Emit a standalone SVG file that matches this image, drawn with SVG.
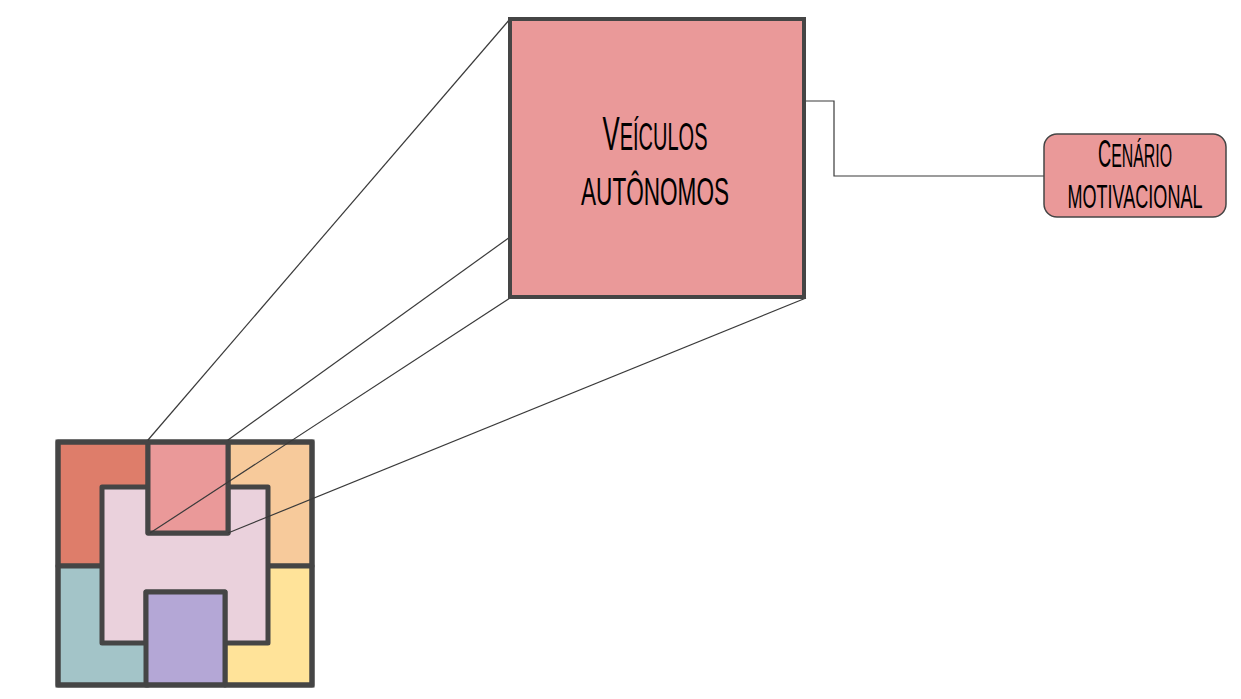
<svg xmlns="http://www.w3.org/2000/svg" width="1241" height="699" viewBox="0 0 1241 699">
<style>
.pc{stroke:#454545;stroke-width:5;stroke-linejoin:round}
.ln{fill:none;stroke:#3a3a3a;stroke-width:1.2}
.t{font-family:"Liberation Sans",Arial,sans-serif;fill:#000;text-anchor:middle}
.up{text-transform:uppercase}
</style>
<rect width="1241" height="699" fill="#fff"/>
<g id="puzzle">
<rect class="pc" x="58" y="442" width="90" height="124" fill="#DE7D6A"/>
<rect class="pc" x="228" y="442" width="84" height="124" fill="#F7CA9B"/>
<rect class="pc" x="58" y="566" width="90" height="119" fill="#A3C4C8"/>
<rect class="pc" x="225" y="566" width="87" height="119" fill="#FFE399"/>
<polygon class="pc" points="102,487 148,487 148,533 228,533 228,487 268,487 268,643 225,643 225,592 146,592 146,643 102,643" fill="#EAD1DC"/>
<rect class="pc" x="148" y="442" width="80" height="91" fill="#EA9999"/>
<rect class="pc" x="146" y="592" width="79" height="93" fill="#B4A7D6"/>
<rect x="58" y="442" width="254" height="243" fill="none" stroke="#454545" stroke-width="5"/>
</g>
<g id="connectors">
<line class="ln" x1="148" y1="440" x2="510" y2="19"/>
<line class="ln" x1="228" y1="440" x2="510" y2="237"/>
<line class="ln" x1="150" y1="533" x2="510" y2="298"/>
<line class="ln" x1="228" y1="533" x2="806" y2="298"/>
<polyline class="ln" points="806,101 834,101 834,176 1044,176"/>
</g>
<g id="veiculos">
<rect x="510" y="19" width="294" height="278" fill="#EA9999" stroke="#454545" stroke-width="4"/>
<text class="t" transform="translate(655,150) scale(0.526,1)" x="0" y="0" textLength="199.5" lengthAdjust="spacingAndGlyphs"><tspan font-size="49">V</tspan><tspan class="up" font-size="38">eículos</tspan></text>
<text class="t up" transform="translate(655,205) scale(0.594,1)" x="0" y="0" font-size="38" textLength="249.1" lengthAdjust="spacingAndGlyphs">autônomos</text>
</g>
<g id="cenario">
<rect x="1044" y="134" width="182" height="83" rx="13" fill="#EA9999" stroke="#454545" stroke-width="1.5"/>
<text class="t" transform="translate(1135,167) scale(0.481,1)" x="0" y="0" textLength="153.9" lengthAdjust="spacingAndGlyphs"><tspan font-size="38">C</tspan><tspan class="up" font-size="33">enário</tspan></text>
<text class="t up" transform="translate(1135,208) scale(0.541,1)" x="0" y="0" font-size="33" textLength="249.4" lengthAdjust="spacingAndGlyphs">motivacional</text>
</g>
</svg>
